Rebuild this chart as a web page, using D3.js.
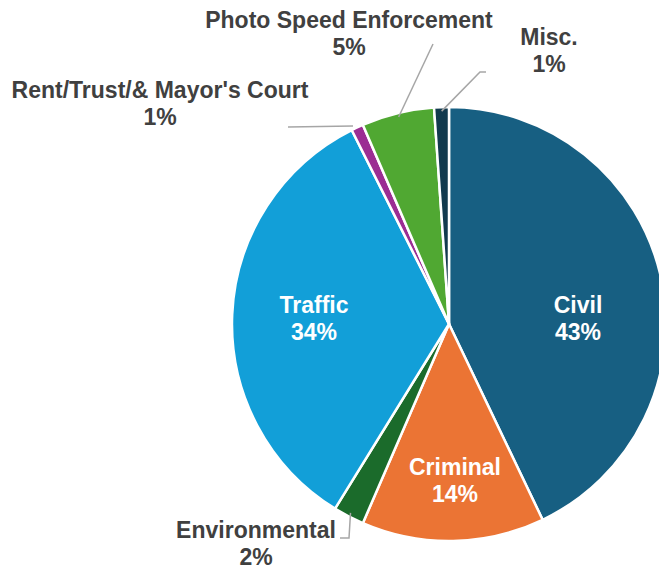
<!DOCTYPE html>
<html>
<head>
<meta charset="utf-8">
<script src="https://cdn.jsdelivr.net/npm/d3@7"></script>
<style>
  body { margin: 0; background: #fff; }
  text { font-family: "Liberation Sans", Arial, sans-serif; font-weight: bold; }
</style>
</head>
<body>
<div class="graph"></div>
<script>
// data, clockwise from 12 o'clock
var categories = ["Civil", "Criminal", "Environmental", "Traffic", "Rent/Trust/& Mayor's Court", "Photo Speed Enforcement", "Misc."]
var values = [42.9, 13.6, 2.3, 33.8, 0.9, 5.4, 1.1]
var pctLabels = ["43%", "14%", "2%", "34%", "1%", "5%", "1%"]
var colors = ["#175f82", "#eb7434", "#1b6b2b", "#129fd8", "#9b2d93", "#50a832", "#123a4e"]

var width = 659, height = 569
var cx = 449, cy = 324, radius = 217

// label layout (label centre x, first line baseline y, inside or out)
var labelPos = {
    "Civil": {x: 578, y: 313, inside: true},
    "Criminal": {x: 455, y: 475, inside: true},
    "Environmental": {x: 256, y: 538, inside: false},
    "Traffic": {x: 314, y: 313, inside: true},
    "Rent/Trust/& Mayor's Court": {x: 160, y: 98, inside: false},
    "Photo Speed Enforcement": {x: 349, y: 28, inside: false},
    "Misc.": {x: 549, y: 45, inside: false}
}
// leader line: extra points after the start on the arc
var leaders = {
    "Environmental": [[349, 538], [340, 538]],
    "Rent/Trust/& Mayor's Court": [[288, 127]],
    "Photo Speed Enforcement": [[433, 44]],
    "Misc.": [[480, 72], [486, 72]]
}

var svg = d3.select('.graph')
    .append('svg')
    .attr('width', width)
    .attr('height', height)

var canvas = svg.append('g')
    .attr('transform', 'translate(' + cx + ',' + cy + ')')

var pie = d3.pie().sort(null).value(function(d, i) { return values[i] })
var arcs = pie(categories)
var arc = d3.arc().innerRadius(0).outerRadius(radius)

canvas.selectAll('path.slice')
    .data(arcs)
    .enter()
    .append('path')
    .attr('class', 'slice')
    .attr('d', arc)
    .style('fill', function(d, i) { return colors[i] })
    .style('stroke', '#fff')
    .style('stroke-width', 2.5)
    .style('stroke-linejoin', 'round')

// leader lines
var line = d3.line()
arcs.forEach(function(d) {
    var pts = leaders[d.data]
    if (!pts) return
    var a = (d.startAngle + d.endAngle) / 2
    var r = radius - 4
    var start = [cx + r * Math.sin(a), cy - r * Math.cos(a)]
    if (d.data == "Rent/Trust/& Mayor's Court") start = [353, 126]
    svg.append('path')
        .attr('d', line([start].concat(pts)))
        .style('fill', 'none')
        .style('stroke', '#a6a6a6')
        .style('stroke-width', 1.5)
})

// labels
arcs.forEach(function(d, i) {
    var p = labelPos[d.data]
    var t = svg.append('text')
        .attr('text-anchor', 'middle')
        .style('font-size', '23px')
        .style('fill', p.inside ? '#ffffff' : '#404040')
    t.append('tspan').attr('x', p.x).attr('y', p.y).text(d.data)
    t.append('tspan').attr('x', p.x).attr('y', p.y + 27).text(pctLabels[i])
})
</script>
</body>
</html>
